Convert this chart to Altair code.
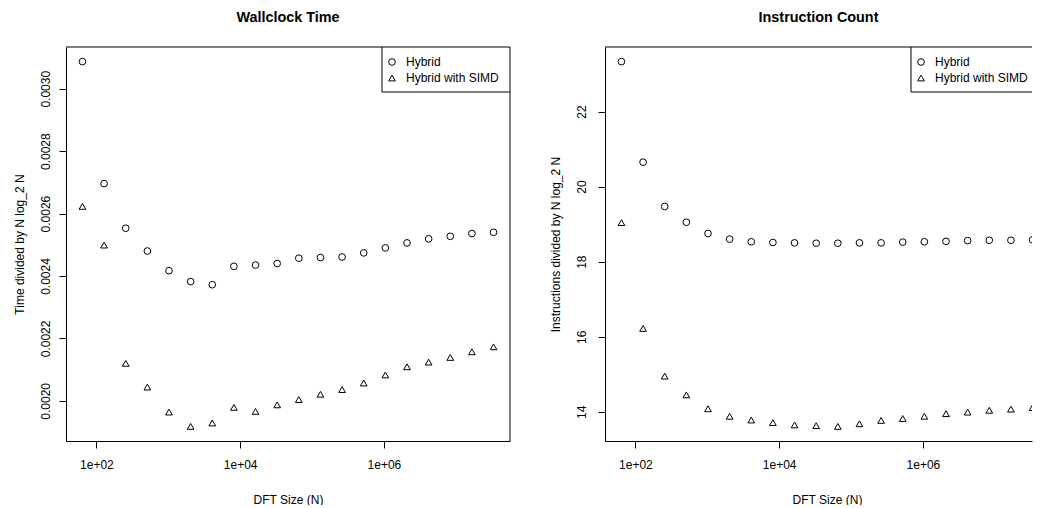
import altair as alt
import pandas as pd
import math

# ---------------- data ----------------
dft_sizes = [64, 128, 256, 512, 1024, 2048, 4096, 8192, 16384, 32768, 65536,
             131072, 262144, 524288, 1048576, 2097152, 4194304, 8388608,
             16777216, 33554432]

wall_hybrid = [0.003087, 0.002696, 0.002553, 0.002480, 0.002417, 0.002382,
               0.002372, 0.002431, 0.002435, 0.002440, 0.002457, 0.002459,
               0.002461, 0.002474, 0.002490, 0.002506, 0.002519, 0.002527,
               0.002536, 0.002540]
wall_simd = [0.002623, 0.002499, 0.002120, 0.002044, 0.001964, 0.001918,
             0.001929, 0.001979, 0.001966, 0.001987, 0.002004, 0.002021,
             0.002036, 0.002057, 0.002083, 0.002109, 0.002124, 0.002139,
             0.002157, 0.002173]

instr_hybrid = [23.33, 20.65, 19.47, 19.05, 18.75, 18.60, 18.53, 18.51, 18.50,
                18.49, 18.49, 18.50, 18.50, 18.52, 18.53, 18.54, 18.56, 18.57,
                18.57, 18.58]
instr_simd = [19.04, 16.22, 14.95, 14.45, 14.08, 13.88, 13.78, 13.71, 13.65,
              13.63, 13.61, 13.68, 13.77, 13.82, 13.88, 13.95, 13.99, 14.04,
              14.07, 14.11]

series_names = ["Hybrid", "Hybrid with SIMD"]
series_shapes = ["circle", "triangle-up"]

x_ticks = [100, 10000, 1000000]
x_tick_labels = ["1e+02", "1e+04", "1e+06"]

wall_y_ticks = [0.0020, 0.0022, 0.0024, 0.0026, 0.0028, 0.0030]
instr_y_ticks = [14, 16, 18, 20, 22]

# ---------------- styling ----------------
FONT = "Liberation Sans"
PW, PH = 444, 394          # full R plot region
PW_RIGHT = 427             # right panel is cut by the page edge
LEG_W, LEG_H = 128, 45
PT_SIZE = 45


def r_range(vals, log=False):
    if log:
        lo, hi = math.log10(min(vals)), math.log10(max(vals))
        d = (hi - lo) * 0.04
        return [lo - d, hi + d]
    lo, hi = min(vals), max(vals)
    d = (hi - lo) * 0.04
    return [lo - d, hi + d]


label_expr = ""
for v, lab in zip(x_ticks[:-1], x_tick_labels[:-1]):
    label_expr += f"datum.value == {v} ? '{lab}' : "
label_expr += f"'{x_tick_labels[-1]}'"


def make_df(a, b):
    rows = []
    for n, v in zip(dft_sizes, a):
        rows.append({"N": n, "value": v, "series": series_names[0]})
    for n, v in zip(dft_sizes, b):
        rows.append({"N": n, "value": v, "series": series_names[1]})
    return pd.DataFrame(rows)


def panel(df, title, ytitle, yticks, yfmt, width, full_box, lab_pad, title_x,
          leg_shift):
    llo, lhi = r_range(dft_sizes, log=True)
    lhi_cut = llo + (lhi - llo) * width / PW
    x_dom = [10 ** llo, 10 ** lhi_cut]
    ydom = r_range(list(df["value"]))

    pts = alt.Chart(df).mark_point(
        filled=False, color="black", strokeWidth=1, size=PT_SIZE, opacity=1,
        clip=True
    ).encode(
        x=alt.X("N:Q",
                scale=alt.Scale(type="log", domain=x_dom, nice=False, zero=False),
                axis=alt.Axis(values=x_ticks, labelExpr=label_expr,
                              title="DFT Size (N)", labelPadding=11,
                              labelFlush=False, labelOverlap=False,
                              titleX=PW / 2, titleY=58, titleBaseline="middle",
                              titleAlign="center")),
        y=alt.Y("value:Q",
                scale=alt.Scale(domain=ydom, nice=False, zero=False),
                axis=alt.Axis(values=yticks, format=yfmt, title=ytitle,
                              labelAngle=-90, labelAlign="center",
                              labelBaseline="bottom", labelPadding=lab_pad,
                              labelFlush=False, labelOverlap=False,
                              titleAngle=-90, titleX=title_x, titleY=PH / 2,
                              titleBaseline="middle", titleAlign="center")),
        shape=alt.Shape("series:N",
                        scale=alt.Scale(domain=series_names, range=series_shapes),
                        legend=None),
    )

    one = pd.DataFrame({"k": [0]})
    layers = [pts]
    # top border of the plot box
    layers.append(alt.Chart(one).mark_rule(color="black", strokeWidth=1).encode(
        x=alt.value(0), x2=alt.value(width), y=alt.value(0)))
    if full_box:
        layers.append(alt.Chart(one).mark_rule(color="black", strokeWidth=1).encode(
            x=alt.value(width), y=alt.value(0), y2=alt.value(PH)))

    # legend box (drawn inside the plot region, clipped at the edge)
    lx = PW - LEG_W - leg_shift
    layers.append(alt.Chart(one).mark_rect(
        fill="white", stroke="black", strokeWidth=1, clip=True
    ).encode(x=alt.value(lx), x2=alt.value(lx + LEG_W),
             y=alt.value(0), y2=alt.value(LEG_H)))
    for i, name in enumerate(series_names):
        ldf = pd.DataFrame({"series": [name]})
        layers.append(alt.Chart(ldf).mark_point(
            shape=series_shapes[i], filled=False, color="black", strokeWidth=1,
            size=PT_SIZE, opacity=1, clip=True
        ).encode(x=alt.value(lx + 10), y=alt.value(15 + 16 * i)))
        layers.append(alt.Chart(ldf).mark_text(
            align="left", baseline="middle", font=FONT, fontSize=12,
            color="black", clip=True
        ).encode(x=alt.value(lx + 24), y=alt.value(15 + 16 * i),
                 text="series:N"))

    return alt.layer(*layers).properties(
        width=width, height=PH,
        title=alt.Title(title, fontSize=14.4, fontWeight="bold", font=FONT,
                        anchor="middle", offset=10, baseline="alphabetic",
                        color="black"),
    )


left = panel(make_df(wall_hybrid, wall_simd), "Wallclock Time",
             "Time divided by N log_2 N", wall_y_ticks, ".4f", PW, True, 7, -47,
             0)
right = panel(make_df(instr_hybrid, instr_simd), "Instruction Count",
              "Instructions divided by N log_2 N", instr_y_ticks, "d",
              PW_RIGHT, False, 10, -50, 10)

chart = alt.hconcat(left, right, spacing=95).resolve_scale(
    y="independent", x="independent", shape="independent"
).properties(
    bounds="flush",
    padding={"left": 5, "top": 2, "right": 0, "bottom": 0},
    background="white",
).configure_view(
    stroke=None
).configure_axis(
    domain=True, domainColor="black", domainWidth=1, grid=False, ticks=True,
    tickColor="black", tickSize=7, tickWidth=1, labelColor="black",
    titleColor="black", labelFont=FONT, titleFont=FONT, labelFontSize=12,
    titleFontSize=12, titleFontWeight="normal",
)

chart.save("out.html", embed_options={"renderer": "svg", "actions": False})
